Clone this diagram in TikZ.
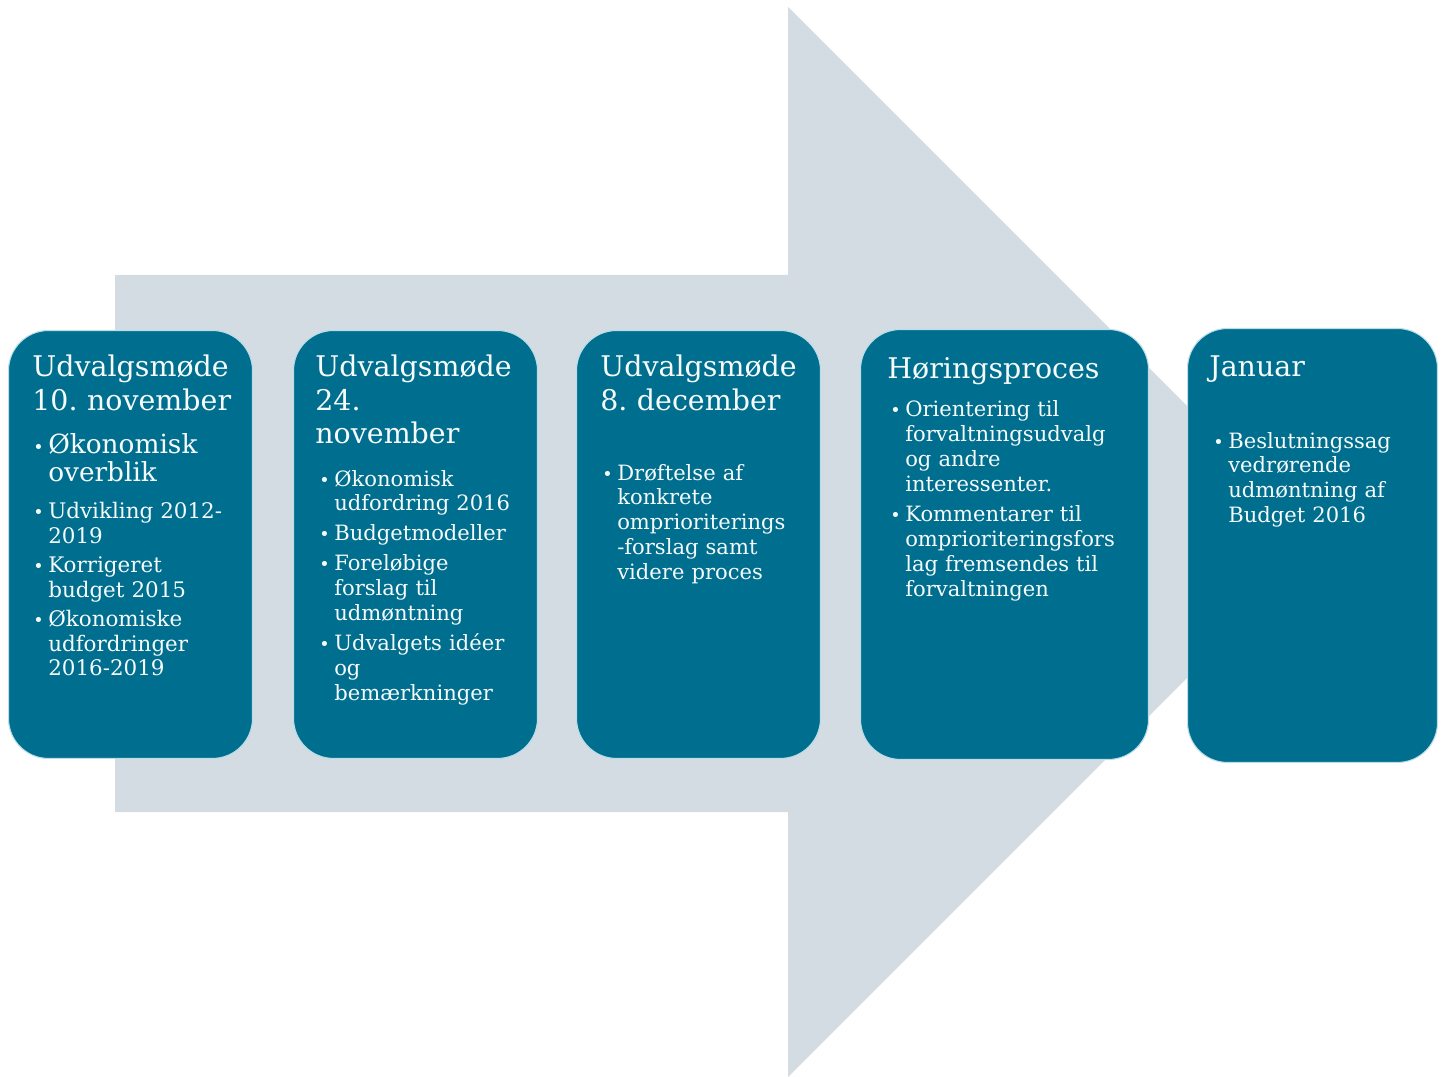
\documentclass[tikz,border=0pt]{standalone}
\usepackage{fontspec}
\setmainfont{DejaVu Serif}
\frenchspacing
\definecolor{boxteal}{RGB}{0,110,142}
\definecolor{arrowgray}{RGB}{212,220,227}
\definecolor{boxedge}{RGB}{185,222,232}
\definecolor{paletext}{RGB}{246,251,251}
\newcommand{\itm}[1]{\hangindent=8.5pt\hangafter=1\noindent\makebox[8.5pt][l]{\fontsize{10}{10}\selectfont\textbullet}#1\par}
\newcommand{\gap}{\vspace{2.8pt}}

\begin{document}
\begin{tikzpicture}[x=0.02cm,y=-0.02cm,
    box/.style={draw=boxedge,line width=0.6pt,fill=boxteal,rounded corners=0.8cm,
      anchor=north west,inner sep=0pt,minimum height=8.56cm},
    title/.style={text=paletext,anchor=base west,inner sep=0pt,text width=7cm,align=left,
      font=\fontsize{16.2}{19}\selectfont},
    items/.style={text=paletext,anchor=base west,inner sep=0pt,text width=7cm,align=left,
      font=\fontsize{12}{14.2}\selectfont}]
  \useasboundingbox (0,0) rectangle (1442,1077);
  % big arrow behind
  \fill[arrowgray] (115,275) -- (788,275) -- (788,7) -- (1323,542)
    -- (788,1077) -- (788,812) -- (115,812) -- cycle;
  % boxes
  \node[box,minimum width=4.88cm] (box1) at (8,330) {};
  \node[box,minimum width=4.88cm] (box2) at (293,330) {};
  \node[box,minimum width=4.88cm] (box3) at (576,330) {};
  \node[box,minimum width=5.76cm,minimum height=8.6cm] (box4) at (860,329) {};
  \node[box,minimum width=5cm,minimum height=8.68cm] (box5) at (1187,328) {};
  % texts
  \node[title] (title1) at (32,377) {Udvalgsmøde\\10. november};
  \node[items] (list1) at (33,453) {%
    \fontsize{15}{16.5}\selectfont\itm{Økonomisk\newline overblik}\gap\vspace{4pt}%
    \fontsize{12.2}{14}\selectfont
    \itm{Udvikling 2012-\newline 2019}\gap
    \itm{Korrigeret\newline budget 2015}\gap
    \itm{Økonomiske\newline udfordringer\newline 2016-2019}};
  \node[title] (title2) at (315,377) {Udvalgsmøde\\24.\\november};
  \node[items] (list2) at (319,486) {%
    \itm{Økonomisk\newline udfordring 2016}\gap
    \itm{Budgetmodeller}\gap
    \itm{Foreløbige\newline forslag til\newline udmøntning}\gap
    \itm{Udvalgets idéer\newline og\newline bemærkninger}};
  \node[title] (title3) at (600,377) {Udvalgsmøde\\8. december};
  \node[items] (list3) at (602,480) {%
    \itm{Drøftelse af\newline konkrete\newline omprioriterings\newline -forslag samt\newline videre proces}};
  \node[title] (title4) at (887,378) {Høringsproces};
  \node[items] (list4) at (890,417) {%
    \itm{Orientering til\newline forvaltningsudvalg\newline og andre\newline interessenter.}\gap
    \itm{Kommentarer til\newline omprioriteringsfors\newline lag fremsendes til\newline forvaltningen}};
  \node[title] (title5) at (1209,377) {Januar};
  \node[items] (list5) at (1213,448) {%
    \itm{Beslutningssag\newline vedrørende\newline udmøntning af\newline Budget 2016}};
\end{tikzpicture}
\end{document}
